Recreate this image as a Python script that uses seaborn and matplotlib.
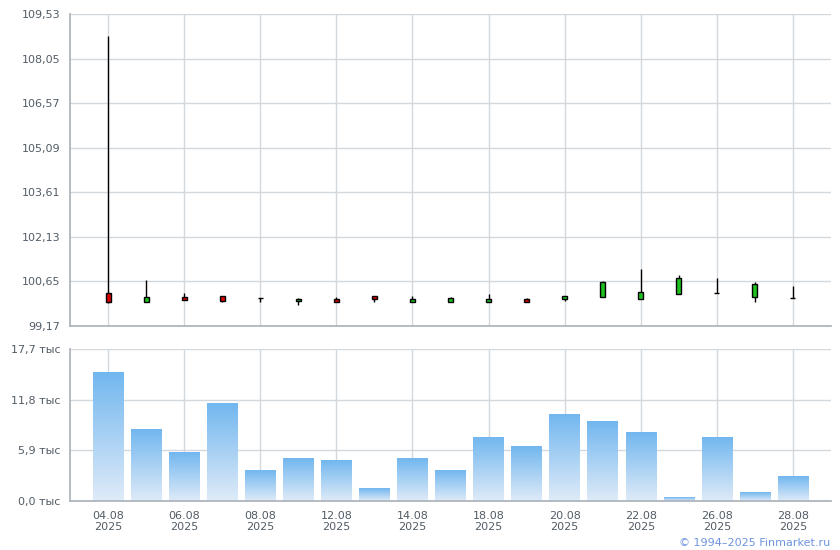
import numpy as np
import pandas as pd
import matplotlib
matplotlib.use("Agg")
import matplotlib.pyplot as plt
import seaborn as sns

# торговые дни
days = ["04.08", "05.08", "06.08", "07.08", "08.08", "11.08", "12.08", "13.08",
        "14.08", "15.08", "18.08", "19.08", "20.08", "21.08", "22.08", "25.08",
        "26.08", "27.08", "28.08"]

# цены (open / high / low / close)
open_ = [100.26, 99.98, 100.13, 100.16, 100.10, 99.99, 100.08, 100.17, 99.96, 99.98,
         99.97, 100.06, 100.08, 100.14, 100.08, 100.22, 100.27, 100.14, 100.09]
high = [108.80, 100.70, 100.27, 100.16, 100.10, 100.09, 100.12, 100.17, 100.17, 100.14,
        100.23, 100.10, 100.17, 100.66, 101.06, 100.86, 100.76, 100.63, 100.49]
low = [99.92, 99.98, 100.03, 99.98, 99.98, 99.87, 99.98, 99.97, 99.96, 99.98,
       99.97, 99.98, 100.01, 100.14, 100.08, 100.22, 100.27, 99.98, 100.09]
close = [99.98, 100.12, 100.04, 100.01, 100.10, 100.06, 99.98, 100.08, 100.08, 100.11,
         100.06, 99.98, 100.17, 100.63, 100.30, 100.75, 100.27, 100.57, 100.09]

# объём, тыс
volume = [15.0, 8.3, 5.6, 11.3, 3.5, 5.0, 4.7, 1.4, 4.9, 3.5,
          7.45, 6.3, 10.1, 9.3, 8.0, 0.35, 7.45, 0.95, 2.8]

price_ticks = [99.17, 100.65, 102.13, 103.61, 105.09, 106.57, 108.05, 109.53]
vol_ticks = [0.0, 5.9, 11.8, 17.7]

df = pd.DataFrame({"day": days, "open": open_, "high": high, "low": low,
                   "close": close, "volume": volume})
df["x"] = np.arange(len(df))

sns.set_style("white")
plt.rcParams["font.family"] = ["DejaVu Sans"]

grid_c = "#d3d8dd"
spine_c = "#a9b0b8"
text_c = "#525c66"

fig = plt.figure(figsize=(8.4, 5.5), dpi=100)
ax1 = fig.add_axes([70 / 840, 1 - 326 / 550, 761 / 840, 312 / 550])
ax2 = fig.add_axes([70 / 840, 1 - 501 / 550, 761 / 840, 152 / 550])

label_pos = list(range(0, len(days), 2))
label_txt = [f"{days[i]}\n2025" for i in label_pos]


def style(ax):
    for s in ["top", "right"]:
        ax.spines[s].set_visible(False)
    for s in ["left", "bottom"]:
        ax.spines[s].set_color(spine_c)
        ax.spines[s].set_linewidth(1.2)
    ax.grid(True, color=grid_c, linewidth=1)
    ax.set_axisbelow(True)
    ax.tick_params(axis="both", length=5, width=1, color=spine_c,
                   labelcolor=text_c, labelsize=8, pad=2)
    ax.set_xticks(label_pos)
    ax.set_xlim(-1, 19)
    ax.set_xlabel("")
    ax.set_ylabel("")


# свечи
up = df["close"] > df["open"]
down = df["close"] < df["open"]
flat = df["close"] == df["open"]
ax1.vlines(df["x"], df["low"], df["high"], color="black", linewidth=1, zorder=2)
bw = 0.13
for mask, col in [(up, "#1fc01f"), (down, "#d40000")]:
    d = df[mask]
    ax1.bar(d["x"], (d["close"] - d["open"]).abs(),
            bottom=np.minimum(d["open"], d["close"]), width=bw,
            color=col, edgecolor="black", linewidth=1, zorder=3)
d = df[flat]
ax1.hlines(d["close"], d["x"] - bw / 2, d["x"] + bw / 2, color="black",
           linewidth=1, zorder=3)

style(ax1)
ax1.set_ylim(99.17, 109.53)
ax1.set_yticks(price_ticks)
ax1.set_yticklabels([f"{v:.2f}".replace(".", ",") for v in price_ticks])
ax1.set_xticklabels([])

# объём
sns.barplot(data=df, x="x", y="volume", ax=ax2, color="#74b9ef", width=0.8,
            order=list(range(len(df))))
grad = np.linspace(0, 1, 256).reshape(-1, 1)
cmap = matplotlib.colors.LinearSegmentedColormap.from_list(
    "vol", ["#dfebf8", "#72b7ef"])
for p in ax2.patches:
    x0, y0 = p.get_x(), p.get_y()
    w, h = p.get_width(), p.get_height()
    p.set_visible(False)
    ax2.imshow(grad, extent=(x0, x0 + w, y0, y0 + h), origin="lower",
               aspect="auto", cmap=cmap, zorder=2)

style(ax2)
ax2.set_ylim(0, 17.7)
ax2.set_yticks(vol_ticks)
ax2.set_yticklabels([f"{v:.1f}".replace(".", ",") + " тыс" for v in vol_ticks])
ax2.set_xticklabels(label_txt, linespacing=1.1)

fig.text(830 / 840, 1 - 543 / 550, "© 1994–2025 Finmarket.ru", color="#6e94e0",
         fontsize=8, ha="right", va="center")

fig.savefig("out.png", dpi=100)
